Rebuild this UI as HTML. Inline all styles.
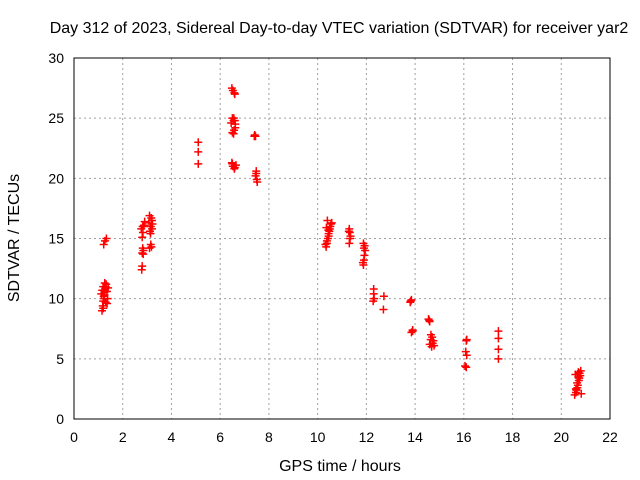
<!DOCTYPE html>
<html><head><meta charset="utf-8"><style>
body{margin:0;background:#fff}
svg{display:block;font-family:"Liberation Sans",sans-serif}
</style></head><body>
<svg id="c" width="640" height="480"></svg>
<script>
const xTicks=[0,2,4,6,8,10,12,14,16,18,20,22];
const yTicks=[0,5,10,15,20,25,30];
const hours=[1.15,1.18,1.2,1.22,1.25,1.28,1.3,1.32,1.35,1.38,1.2,1.25,1.3,1.22,1.27,1.33,1.24,1.26,1.12,1.16,1.36,1.4,1.3,1.2,
2.78,2.8,2.8,2.82,2.85,2.8,2.83,2.87,2.9,2.82,2.76,2.84,3.1,3.15,3.18,3.12,3.15,3.2,3.1,3.17,3.2,3.08,3.22,3.14,
5.1,5.1,5.1,
6.48,6.52,6.58,6.6,6.5,6.55,6.62,6.57,6.5,6.55,6.6,6.48,6.52,6.58,6.45,6.65,6.62,6.5,6.6,6.56,
7.42,7.45,7.48,7.45,7.5,7.52,7.4,7.48,
10.35,10.38,10.42,10.45,10.5,10.55,10.4,10.48,10.52,10.38,10.45,10.32,10.58,10.44,10.36,
11.3,11.32,11.35,11.3,11.33,11.28,
11.88,11.9,11.92,11.9,11.88,11.93,11.86,11.95,
12.3,12.3,12.32,12.28,12.7,12.72,
13.82,13.85,13.9,13.85,13.8,13.9,
14.55,14.6,14.65,14.7,14.75,14.6,14.68,14.72,14.58,14.78,14.64,
16.1,16.12,16.08,16.12,16.1,16.05,
17.42,17.42,17.42,17.42,
20.55,20.6,20.65,20.7,20.75,20.8,20.6,20.68,20.72,20.78,20.62,20.7,20.58,20.82,20.66,20.74];
const vtec=[9.0,9.4,9.8,10.2,10.5,10.8,11.0,11.2,10.6,10.0,9.2,10.3,10.9,14.5,14.8,15.0,10.0,11.3,10.4,10.7,9.6,10.9,9.7,11.0,
12.4,12.7,13.8,14.2,14.0,15.1,15.5,16.1,16.4,16.0,15.8,13.7,14.2,14.5,14.3,15.6,16.0,16.5,16.9,16.7,15.8,16.3,16.2,15.4,
21.2,22.2,23.0,
27.5,27.3,27.1,27.0,25.0,24.8,24.5,24.0,23.8,23.7,24.8,21.3,21.0,20.8,24.6,21.1,24.2,21.2,20.9,25.0,
23.6,23.5,20.6,20.2,19.9,19.7,23.5,20.4,
14.3,14.6,15.0,15.4,15.8,16.2,16.5,15.6,16.0,14.8,15.2,14.5,16.3,15.7,15.9,
15.8,15.5,15.2,14.6,15.0,15.6,
14.6,14.2,13.6,13.2,12.8,14.4,13.0,14.0,
10.8,10.4,10.0,9.8,9.1,10.2,
9.8,9.9,7.3,7.2,9.7,7.4,
8.3,8.1,7.0,6.8,6.5,6.2,6.0,6.3,8.2,6.1,6.6,
6.5,6.6,5.6,5.3,4.3,4.4,
7.3,6.7,5.8,5.0,
2.0,2.5,3.0,3.5,3.8,4.0,2.2,2.8,3.2,3.6,2.4,3.9,3.7,2.1,2.6,3.4];
const X=h=>74+h*(536/22), Y=v=>419-v*(361/30);
const s=document.getElementById('c'),NS='http://www.w3.org/2000/svg';
function el(t,a,txt){const e=document.createElementNS(NS,t);for(const k in a)e.setAttribute(k,a[k]);if(txt!=null)e.textContent=txt;s.appendChild(e);return e;}
for(const t of xTicks){
 if(t>0&&t<22){const g=el('line',{x1:X(t),x2:X(t),y1:58,y2:419,stroke:'#a0a0a0','stroke-dasharray':'2,3'});
 
 }
 const l=el('text',{x:X(t),y:442,'text-anchor':'middle','font-size':14},t);
 
 
}
for(const t of yTicks){
 if(t>0&&t<30){const g=el('line',{x1:74,x2:610,y1:Y(t),y2:Y(t),stroke:'#a0a0a0','stroke-dasharray':'2,3'});
 
 }
 const l=el('text',{x:64,y:Y(t)+5,'text-anchor':'end','font-size':14},t);
 
 
}
const fr=el('rect',{x:74,y:58,width:536,height:361,fill:'none',stroke:'#000'});


for(let i=0;i<hours.length;i++){
 const x=X(hours[i]),y=Y(vtec[i]);
 const p=el('path',{d:`M${x-4},${y}H${x+4}M${x},${y-4}V${y+4}`,stroke:'#f00','stroke-width':1.5,fill:'none'});
 
 
}
const t1=el('text',{x:339,y:33,'text-anchor':'middle','font-size':16},'Day 312 of 2023, Sidereal Day-to-day VTEC variation (SDTVAR) for receiver yar2');


const t2=el('text',{x:340,y:471,'text-anchor':'middle','font-size':16},'GPS time / hours');


const t3=el('text',{x:19,y:238,'text-anchor':'middle','font-size':16,transform:'rotate(-90 19 238)'},'SDTVAR / TECUs');


</script>
</body></html>
